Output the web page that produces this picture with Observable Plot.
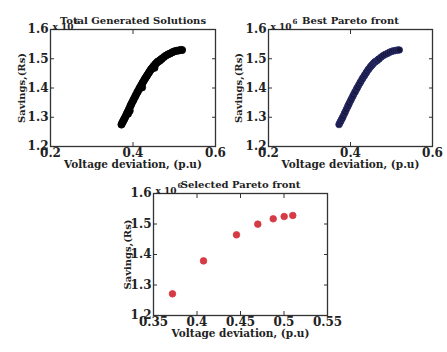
<!DOCTYPE html>
<html><head><meta charset="utf-8">
<script src="https://cdn.jsdelivr.net/npm/d3@7"></script>
<script src="https://cdn.jsdelivr.net/npm/@observablehq/plot@0.6"></script>
<style>
body{margin:0;background:#fff;}
#wrap{position:relative;width:447px;height:352px;overflow:hidden;background:#fff;}
.p{position:absolute;}
svg{font-family:"DejaVu Serif",serif;font-weight:bold;overflow:visible;}
</style></head><body><div id="wrap"></div>
<script>
// Total generated solutions (voltage deviation p.u, savings x1e6 Rs)
const allX = [0.372,0.374,0.376,0.378,0.380,0.382,0.385,0.387,0.388,0.390,0.392,0.393,0.395,0.397,0.400,0.402,0.405,0.407,0.410,0.412,0.415,0.417,0.420,0.422,0.423,0.425,0.428,0.430,0.433,0.435,0.438,0.440,0.443,0.445,0.448,0.450,0.452,0.453,0.455,0.458,0.460,0.463,0.465,0.468,0.470,0.475,0.480,0.485,0.490,0.495,0.500,0.505,0.510,0.515,0.519];
const allY = [1.275,1.281,1.286,1.292,1.297,1.303,1.312,1.318,1.312,1.327,1.322,1.336,1.342,1.348,1.356,1.362,1.370,1.376,1.384,1.389,1.397,1.402,1.410,1.402,1.417,1.422,1.429,1.434,1.440,1.445,1.451,1.456,1.462,1.466,1.471,1.475,1.469,1.479,1.483,1.487,1.490,1.492,1.494,1.498,1.500,1.506,1.511,1.515,1.518,1.522,1.525,1.527,1.528,1.530,1.530];
// Best Pareto front
const bestX = [0.372,0.374,0.376,0.378,0.380,0.382,0.385,0.387,0.390,0.393,0.395,0.397,0.400,0.402,0.405,0.407,0.410,0.412,0.415,0.417,0.420,0.423,0.425,0.428,0.430,0.433,0.435,0.438,0.440,0.443,0.445,0.448,0.450,0.453,0.455,0.458,0.460,0.463,0.465,0.468,0.470,0.475,0.480,0.485,0.490,0.495,0.500,0.505,0.510,0.515,0.519];
const bestY = [1.275,1.281,1.286,1.292,1.297,1.303,1.312,1.318,1.327,1.336,1.342,1.348,1.356,1.362,1.370,1.376,1.384,1.389,1.397,1.402,1.410,1.417,1.422,1.429,1.434,1.440,1.445,1.451,1.456,1.462,1.466,1.471,1.475,1.479,1.483,1.487,1.490,1.492,1.494,1.498,1.500,1.506,1.511,1.515,1.518,1.522,1.525,1.527,1.528,1.530,1.530];
// Selected Pareto front
const selX = [0.3718,0.4075,0.4454,0.4699,0.4876,0.5002,0.5101];
const selY = [1.271,1.379,1.4645,1.4995,1.517,1.5246,1.528];
const yTicks = [1.2,1.3,1.4,1.5,1.6];
const xTicksA = [0.2,0.4,0.6];
const xTicksB = [0.35,0.4,0.45,0.5,0.55];
const titles = ["Total Generated Solutions","Best Pareto front","Selected Pareto front"];
const xLabel = "Voltage deviation, (p.u)";
const yLabel = "Savings,(Rs)";

function panel(cfg){
  const data = cfg.xs.map((x,i)=>({x, y: cfg.ys[i]}));
  const fmt = d => String(d);
  const tickMarks = ["bottom","top"].map(a => Plot.axisX(cfg.xt,{anchor:a, tickSize:-4, tickFormat:()=>"", stroke:"#333", label:null}))
    .concat(["left","right"].map(a => Plot.axisY(yTicks,{anchor:a, tickSize:-4, tickFormat:()=>"", stroke:"#333", label:null})));
  return Plot.plot({
    width: cfg.w, height: cfg.h,
    marginLeft: cfg.ml, marginRight: cfg.mr, marginTop: cfg.mt, marginBottom: cfg.mb,
    style:{fontFamily:"DejaVu Serif", fontWeight:"bold", background:"transparent", overflow:"visible"},
    x:{domain: cfg.xd},
    y:{domain:[1.2,1.6]},
    marks:[
      ...tickMarks,
      Plot.axisX(cfg.xt,{anchor:"bottom", tickSize:0, tickPadding:2, tickFormat:fmt, fontSize:12, fill:"#222", label:null}),
      Plot.axisY(yTicks,{anchor:"left", tickSize:0, tickPadding:2, tickFormat:d=>d.toFixed(1), fontSize:12, fill:"#222", label:null}),
      Plot.frame({stroke:"#333", strokeWidth:1.3}),
      Plot.dot(data,{x:"x", y:"y", r:cfg.r, fill:cfg.fill, stroke:cfg.stroke, strokeWidth:0.8}),
      Plot.text([cfg.title],{frameAnchor:"top", dy:-13, fontSize:10, fill:"#222", fontWeight:"bold"}),
      Plot.text(["x 10"],{frameAnchor:"top-left", textAnchor:"start", dx:2, dy:-6, fontSize:9, fill:"#222"}),
      Plot.text(["6"],{frameAnchor:"top-left", textAnchor:"start", dx:24, dy:-10, fontSize:7, fill:"#222"}),
      Plot.text([xLabel],{frameAnchor:"bottom", dy:cfg.xly, fontSize:10.5, fill:"#222"}),
      Plot.text([yLabel],{frameAnchor:"left", textAnchor:"middle", rotate:-90, dx:cfg.ylx, fontSize:10, fill:"#222"})
    ]
  });
}
const wrap = document.getElementById("wrap");
function place(el,l,t){const d=document.createElement("div");d.className="p";d.style.left=l+"px";d.style.top=t+"px";d.appendChild(el);wrap.appendChild(d);}
place(panel({xs:allX, ys:allY, xd:[0.2,0.6], xt:xTicksA, title:titles[0], w:230,h:175,ml:50,mr:15,mt:29,mb:29, r:3.6, fill:"#000", stroke:"#000", xly:21, ylx:-29}),0,0);
place(panel({xs:bestX, ys:bestY, xd:[0.2,0.6], xt:xTicksA, title:titles[1], w:227,h:175,ml:48,mr:15,mt:29,mb:29, r:3.3, fill:"#15153a", stroke:"#2b2f6e", xly:21, ylx:-30}),220,0);
place(panel({xs:selX, ys:selY, xd:[0.35,0.55], xt:xTicksB, title:titles[2], w:280,h:182,ml:63,mr:43,mt:23,mb:37, r:3.3, fill:"#d63a44", stroke:"#d63a44", xly:21, ylx:-26}),90,170);
</script></body></html>
